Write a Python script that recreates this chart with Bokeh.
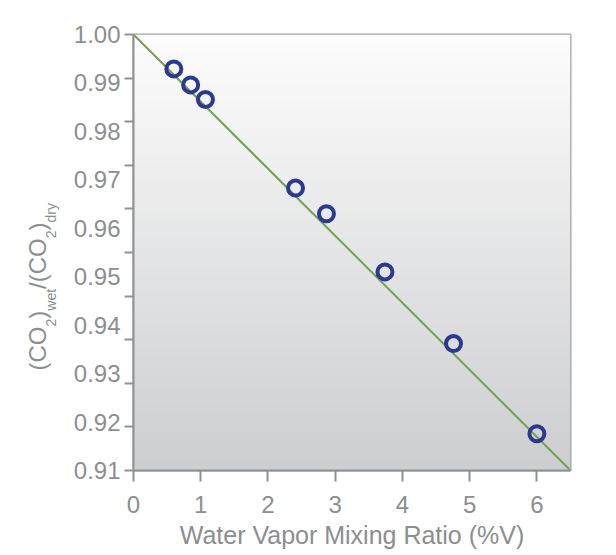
import numpy as np
from bokeh.plotting import figure
from bokeh.layouts import row
from bokeh.models import Range1d, FixedTicker, PrintfTickFormatter, ColumnDataSource
from bokeh.core.properties import value
from bokeh.embed import file_html
from bokeh.resources import INLINE

# ---- data ----
mixing_ratio = [0.60, 0.85, 1.07, 2.41, 2.87, 3.74, 4.76, 6.00]
co2_ratio = [0.9929, 0.9896, 0.9866, 0.9683, 0.9630, 0.9510, 0.9362, 0.9176]
fit_x = [0.0, 6.5]
fit_y = [1.00, 0.91]
x_tick_values = [0, 1, 2, 3, 4, 5, 6]
y_tick_labels = [0.91, 0.92, 0.93, 0.94, 0.95, 0.96, 0.97, 0.98, 0.99, 1.00]
y_tick_marks = [0.910, 0.919, 0.928, 0.937, 0.946, 0.955, 0.964, 0.973, 0.982, 0.991, 1.000]
x_title = "Water Vapor Mixing Ratio (%V)"
y_title_parts = ["(CO", "2", ")", "wet", "/(CO", "2", ")", "dry"]
y_title_is_sub = [False, True, False, True, False, True, False, True]

X0, X1 = 0.0, 6.5
Y0, Y1 = 0.91, 1.00

AXIS = "#8f9193"
TXT = "#8c8e90"
FONT = "Liberation Sans"

H = 552
TITLE_W = 62
FRAME_TOP, FRAME_H = 34, 436

p = figure(width=546, height=H, output_backend="svg", toolbar_location=None,
           x_range=Range1d(X0, X1), y_range=Range1d(Y0, Y1),
           min_border_left=71, min_border_right=38, min_border_top=FRAME_TOP,
           min_border_bottom=H - FRAME_TOP - FRAME_H)
p.background_fill_color = "white"
p.border_fill_color = "white"
p.outline_line_color = "#a2a2a2"
p.outline_line_width = 2
p.grid.visible = False

# gradient backdrop of the frame
n = 256
t = np.linspace(0.0, 1.0, n)  # 0 bottom -> 1 top
bottom = np.array([205, 206, 208])
top = np.array([253, 253, 253])
rgba = np.zeros((n, 1, 4), dtype=np.uint8)
for i in range(3):
    rgba[:, 0, i] = (bottom[i] + (top[i] - bottom[i]) * t).astype(np.uint8)
rgba[:, 0, 3] = 255
img = rgba.view(dtype=np.uint32).reshape((n, 1))
p.image_rgba(image=[img], x=X0, y=Y0, dw=X1 - X0, dh=Y1 - Y0)

p.line(fit_x, fit_y, line_color="#74a052", line_width=2)
p.scatter(mixing_ratio, co2_ratio, size=15, fill_alpha=0,
          line_color="#2b3990", line_width=4)

# x axis
xa = p.xaxis[0]
xa.ticker = FixedTicker(ticks=x_tick_values, minor_ticks=[])
xa.axis_line_color = AXIS
xa.axis_line_width = 2
xa.major_tick_line_color = AXIS
xa.major_tick_line_width = 2
xa.major_tick_out = 11
xa.major_tick_in = 0
xa.minor_tick_line_color = None
xa.major_label_text_font = FONT
xa.major_label_text_font_size = "24px"
xa.major_label_text_color = TXT
xa.major_label_standoff = 14
xa.axis_label = x_title
xa.axis_label_text_font = FONT
xa.axis_label_text_font_size = "25px"
xa.axis_label_text_font_style = "normal"
xa.axis_label_text_color = TXT
xa.axis_label_standoff = 5

# y axis: labels every 0.01, tick marks on their own spacing
ya = p.yaxis[0]
ya.ticker = FixedTicker(ticks=y_tick_labels, minor_ticks=y_tick_marks)
ya.formatter = PrintfTickFormatter(format="%.2f")
ya.axis_line_color = AXIS
ya.axis_line_width = 2
ya.major_tick_out = 0
ya.major_tick_in = 0
ya.major_tick_line_color = None
ya.minor_tick_line_color = AXIS
ya.minor_tick_line_width = 2
ya.minor_tick_out = 9
ya.minor_tick_in = 0
ya.major_label_text_font = FONT
ya.major_label_text_font_size = "24px"
ya.major_label_text_color = TXT
ya.major_label_standoff = 4

# rotated y title with subscripts, drawn in a narrow side panel whose frame
# is aligned with the main frame by the row layout (y = pixels from canvas top)
tp = figure(width=TITLE_W, height=H, output_backend="svg", toolbar_location=None,
            x_range=Range1d(0, TITLE_W),
            y_range=Range1d(-(FRAME_TOP + FRAME_H), -FRAME_TOP),
            x_axis_location=None, y_axis_location=None,
            min_border=0, min_border_left=0, min_border_right=0,
            min_border_top=0, min_border_bottom=0)
tp.outline_line_color = None
tp.grid.visible = False
tp.background_fill_color = "white"
tp.border_fill_color = "white"

main_size, sub_size = 24, 14
char_w = {"(": 0.333, ")": 0.333, "/": 0.278, "C": 0.722, "O": 0.778, "2": 0.556,
          "w": 0.722, "e": 0.556, "t": 0.278, "d": 0.556, "r": 0.333, "y": 0.5}
xs, ys, sizes = [], [], []
pos = 370.0  # pixel from top where the title starts (bottom end)
for part, is_sub in zip(y_title_parts, y_title_is_sub):
    size = sub_size if is_sub else main_size
    w = sum(char_w[c] for c in part) * size
    base = 55 if is_sub else 45
    xs.append(base - 0.35 * size)     # centre of the em box
    ys.append(-(pos - w / 2.0))       # centre along the text
    sizes.append(f"{size}px")
    pos -= w

src = ColumnDataSource(dict(x=xs, y=ys, text=y_title_parts, size=sizes))
tp.text(x="x", y="y", text="text", source=src, angle=np.pi / 2,
        text_align="center", text_baseline="middle",
        text_font=value(FONT), text_font_size="size", text_color=TXT)

layout = row(tp, p, spacing=0)
open("out.html", "w").write(file_html(layout, INLINE))
